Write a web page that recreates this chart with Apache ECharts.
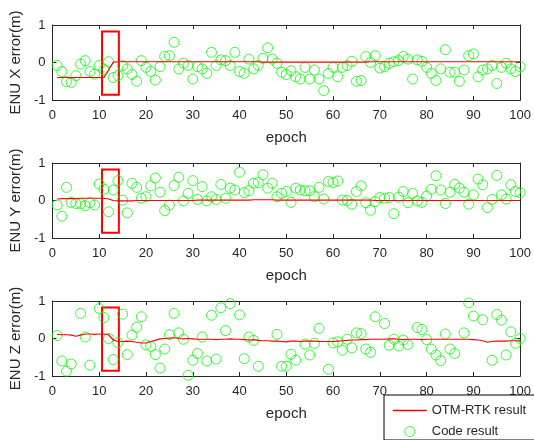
<!DOCTYPE html>
<html>
<head>
<meta charset="utf-8">
<script src="https://cdn.jsdelivr.net/npm/echarts@6/dist/echarts.min.js"></script>
<style>
  html, body { margin: 0; padding: 0; background: #fff; }
  #main { width: 534px; height: 440px; }
</style>
</head>
<body>
<div id="main"></div>
<script>
// epochs 1..100
var epochs = [];
for (var e = 1; e <= 100; e++) epochs.push(e);

var xTicks = [0, 10, 20, 30, 40, 50, 60, 70, 80, 90, 100];
var yTicks = [-1, 0, 1];

// OTM-RTK result (red line)
var rtkX = [-0.40, -0.40, -0.40, -0.41, -0.40, -0.40, -0.40, -0.40, -0.40, -0.40,
  -0.40, -0.20, 0.01, 0.02, 0.02, 0.02, 0.02, 0.02, 0.02, 0.02,
  0.02, 0.02, 0.02, 0.02, 0.02, 0.02, 0.02, 0.02, 0.02, 0.02,
  0.02, 0.02, 0.02, 0.02, 0.02, 0.02, 0.02, 0.02, 0.02, 0.02,
  0.02, 0.02, 0.02, 0.02, 0.01, 0.01, 0.01, 0.01, 0.01, 0.01,
  0.01, 0.01, 0.01, 0.01, 0.01, 0.01, 0.01, 0.01, 0.01, 0.01,
  0.01, 0.01, 0.01, 0.01, 0.01, 0.01, 0.01, 0.02, 0.02, 0.02,
  0.02, 0.02, 0.02, 0.02, 0.02, 0.02, 0.02, 0.02, 0.02, 0.02,
  0.02, 0.02, 0.02, 0.02, 0.02, 0.02, 0.02, 0.02, 0.02, 0.02,
  0.02, 0.02, 0.02, 0.02, 0.02, 0.02, 0.02, 0.02, 0.02, 0.02];
var rtkY = [0.04, 0.05, 0.05, 0.05, 0.05, 0.06, 0.06, 0.06, 0.06, 0.06,
  0.06, 0.04, 0.00, -0.01, -0.01, -0.01, -0.01, 0.00, 0.00, 0.00,
  0.00, 0.00, 0.00, 0.00, 0.00, 0.00, 0.00, 0.00, 0.00, 0.00,
  0.01, 0.01, 0.01, 0.01, 0.01, 0.01, 0.01, 0.01, 0.01, 0.01,
  0.01, 0.01, 0.02, 0.02, 0.02, 0.02, 0.02, 0.01, 0.01, 0.01,
  0.01, 0.01, 0.01, 0.01, 0.01, 0.01, 0.01, 0.01, 0.01, 0.01,
  0.01, 0.01, 0.01, 0.01, 0.01, 0.01, 0.01, 0.01, 0.00, 0.00,
  0.00, 0.00, 0.00, 0.00, 0.00, 0.00, 0.00, 0.00, 0.00, 0.00,
  0.00, 0.00, 0.00, 0.00, 0.00, 0.00, 0.00, 0.00, 0.00, 0.00,
  0.00, 0.00, 0.00, 0.00, 0.00, 0.00, 0.00, 0.00, 0.00, 0.00];
var rtkZ = [0.11, 0.10, 0.10, 0.09, 0.06, 0.09, 0.12, 0.12, 0.11, 0.12,
  0.12, 0.10, -0.04, -0.08, -0.08, -0.07, -0.08, -0.10, -0.12, -0.12,
  -0.08, -0.05, -0.01, 0.00, 0.01, 0.02, 0.00, -0.01, 0.00, -0.01,
  -0.02, -0.02, -0.02, -0.02, -0.03, -0.02, -0.02, -0.01, -0.02, -0.02,
  -0.03, -0.04, -0.03, -0.05, -0.06, -0.06, -0.07, -0.07, -0.08, -0.09,
  -0.07, -0.07, -0.08, -0.07, -0.07, -0.07, -0.08, -0.08, -0.08, -0.08,
  -0.07, -0.06, -0.05, -0.04, -0.04, -0.03, -0.03, -0.02, -0.02, -0.02,
  -0.02, -0.01, -0.01, -0.02, -0.03, -0.02, -0.02, -0.02, -0.03, -0.02,
  -0.02, -0.02, -0.02, -0.02, -0.02, -0.02, -0.02, -0.02, -0.02, -0.03,
  -0.04, -0.06, -0.10, -0.08, -0.07, -0.07, -0.07, -0.06, -0.06, -0.07];

// Code result (green circles); null = outside the plotted range
var codeX = [-0.08, -0.24, -0.51, -0.53, -0.35, -0.04, 0.05, -0.24, -0.31, -0.08,
  -0.19, 0.02, -0.40, -0.35, -0.08, -0.17, -0.32, -0.50, 0.05, -0.13,
  -0.24, -0.47, -0.11, 0.16, 0.18, 0.54, -0.17, -0.02, -0.08, -0.44,
  -0.11, -0.17, -0.29, 0.27, -0.08, 0.07, 0.05, -0.08, 0.27, -0.24,
  -0.29, 0.09, -0.17, -0.08, 0.11, 0.39, 0.09, -0.02, -0.26, -0.32,
  -0.22, -0.38, -0.44, -0.13, -0.44, -0.20, -0.44, -0.75, -0.29, -0.13,
  -0.38, -0.13, -0.08, 0.03, -0.50, -0.48, 0.16, 0.00, 0.18, -0.15,
  -0.11, -0.02, 0.02, 0.05, 0.16, 0.09, -0.44, 0.07, 0.03, -0.13,
  -0.29, -0.48, -0.17, 0.34, -0.26, -0.26, -0.50, -0.20, 0.18, 0.23,
  -0.38, -0.20, -0.17, -0.08, -0.56, -0.13, -0.02, -0.17, -0.24, -0.11];
var codeY = [-0.12, -0.42, 0.35, -0.05, -0.08, -0.09, -0.14, -0.06, -0.12, 0.44,
  0.30, -0.30, 0.28, 0.53, 0.01, -0.33, 0.46, 0.35, 0.06, 0.10,
  0.39, 0.60, 0.22, -0.27, -0.12, 0.40, 0.62, -0.01, 0.19, 0.53,
  0.03, 0.37, -0.01, 0.10, 0.03, 0.43, 0.06, 0.33, 0.28, 0.75,
  0.21, 0.26, 0.46, 0.48, 0.69, 0.33, 0.46, 0.10, 0.19, 0.24,
  -0.05, 0.33, 0.28, 0.26, 0.26, 0.10, 0.35, 0.04, 0.51, 0.48,
  0.52, 0.01, 0.00, -0.10, 0.24, 0.39, -0.06, -0.26, -0.03, 0.08,
  0.06, 0.08, -0.35, 0.09, 0.24, -0.06, 0.19, -0.01, -0.05, 0.12,
  0.30, 0.66, 0.28, -0.08, 0.22, 0.43, 0.33, 0.22, -0.10, 0.15,
  0.57, 0.42, -0.19, 0.03, 0.67, 0.15, 0.04, 0.42, 0.24, 0.21];
var codeZ = [0.08, -0.60, -0.87, -0.68, null, 0.67, 0.04, -0.71, null, 0.80,
  0.56, 0.00, -0.56, -0.11, 0.65, -0.43, 0.09, 0.30, 0.58, -0.17,
  -0.21, -0.43, -0.79, -0.28, 0.10, 0.67, 0.15, -0.02, -0.98, -0.58,
  -0.40, 0.04, -0.60, 0.62, -0.55, 0.82, 0.21, 0.93, null, 0.63,
  -0.54, 0.04, -0.05, -0.74, null, null, null, 0.11, -0.74, -0.74,
  -0.42, -0.58, null, -0.15, -0.44, -0.13, 0.27, null, -0.82, -0.12,
  -0.09, -0.31, -0.02, -0.25, 0.15, 0.13, -0.28, -0.37, 0.58, null,
  0.40, -0.18, -0.02, -0.20, -0.04, -0.16, null, 0.29, 0.24, -0.03,
  -0.28, -0.44, -0.59, 0.12, -0.28, -0.40, null, 0.15, 0.95, 0.60,
  null, 0.50, null, -0.58, 0.64, 0.49, -0.44, 0.18, -0.13, 0.00];

// red highlight box (epoch range, error range)
var boxEpoch = [10.6, 14.2];
var boxError = [-0.86, 0.83];

var panelNames = ['ENU X error(m)', 'ENU Y error(m)', 'ENU Z error(m)'];
var rtkSets = [rtkX, rtkY, rtkZ];
var codeSets = [codeX, codeY, codeZ];
var gridTops = [25, 163, 301];

var font = 'Liberation Sans, Arial, Helvetica, sans-serif';
var ink = '#262626';

function pairs(vals) {
  return epochs.map(function (ep, i) {
    return vals[i] === null ? [ep, '-'] : [ep, vals[i]];
  });
}

var chart = echarts.init(document.getElementById('main'), null, { renderer: 'canvas' });

var grid = [], xAxis = [], yAxis = [], series = [];

panelNames.forEach(function (name, i) {
  grid.push({ left: 49, right: 13, top: gridTops[i], height: 75, show: false });

  // bottom x axis with labels
  xAxis.push({
    gridIndex: i, type: 'value', min: 0, max: 100, interval: 10,
    name: 'epoch', nameLocation: 'middle', nameGap: 30,
    nameTextStyle: { fontSize: 15, color: ink, fontFamily: font },
    axisLine: { onZero: false, lineStyle: { color: ink, width: 1 } },
    axisTick: { inside: true, length: 4, lineStyle: { color: ink } },
    axisLabel: { fontSize: 13, color: ink, fontFamily: font, margin: 9 },
    splitLine: { show: false }
  });
  // top x axis, ticks only (box)
  xAxis.push({
    gridIndex: i, type: 'value', min: 0, max: 100, interval: 10, position: 'top',
    axisLine: { onZero: false, lineStyle: { color: ink, width: 1 } },
    axisTick: { inside: true, length: 4, lineStyle: { color: ink } },
    axisLabel: { show: false },
    splitLine: { show: false }
  });
  yAxis.push({
    gridIndex: i, type: 'value', min: -1, max: 1, interval: 1,
    name: name, nameLocation: 'middle', nameGap: 27, nameRotate: 90,
    nameTextStyle: { fontSize: 15, color: ink, fontFamily: font },
    axisLine: { show: true, onZero: false, lineStyle: { color: ink, width: 1 } },
    axisTick: { show: true, inside: true, length: 4, lineStyle: { color: ink } },
    axisLabel: { fontSize: 13, color: ink, fontFamily: font, margin: 7 },
    splitLine: { show: false }
  });
  yAxis.push({
    gridIndex: i, type: 'value', min: -1, max: 1, interval: 1, position: 'right',
    axisLine: { show: true, onZero: false, lineStyle: { color: ink, width: 1 } },
    axisTick: { show: true, inside: true, length: 4, lineStyle: { color: ink } },
    axisLabel: { show: false },
    splitLine: { show: false }
  });

  series.push({
    name: 'OTM-RTK result',
    type: 'line',
    xAxisIndex: i * 2, yAxisIndex: i * 2,
    data: pairs(rtkSets[i]),
    symbol: 'none',
    lineStyle: { color: '#ff0000', width: 1.2 },
    itemStyle: { color: '#ff0000' },
    silent: true,
    z: 3
  });
  series.push({
    name: 'Code result',
    type: 'scatter',
    xAxisIndex: i * 2, yAxisIndex: i * 2,
    data: pairs(codeSets[i]),
    symbol: 'circle',
    symbolSize: 10,
    itemStyle: { color: 'transparent', borderColor: '#00ff00', borderWidth: 1 },
    silent: true,
    z: 2,
    markArea: {
      silent: true,
      itemStyle: { color: 'transparent', borderColor: '#ff0000', borderWidth: 2 },
      data: [[
        { xAxis: boxEpoch[0], yAxis: boxError[1] },
        { xAxis: boxEpoch[1], yAxis: boxError[0] }
      ]]
    }
  });
});

var option = {
  backgroundColor: '#fff',
  animation: false,
  grid: grid,
  xAxis: xAxis,
  yAxis: yAxis,
  legend: {
    orient: 'vertical',
    left: 384, top: 395,
    padding: [9, 10, 2, 8],
    itemWidth: 34, itemHeight: 10, itemGap: 8,
    backgroundColor: '#fff',
    borderColor: '#000', borderWidth: 1, borderRadius: 0,
    textStyle: { fontSize: 13, lineHeight: 12, color: ink, fontFamily: font },
    data: [
      { name: 'OTM-RTK result',
        itemStyle: { color: 'transparent', borderColor: 'transparent', borderWidth: 0 },
        lineStyle: { color: '#ff0000', width: 1.5 } },
      { name: 'Code result', icon: 'circle',
        itemStyle: { color: 'transparent', borderColor: '#00ff00', borderWidth: 1 } }
    ]
  },
  series: series
};

chart.setOption(option);
</script>
</body>
</html>
